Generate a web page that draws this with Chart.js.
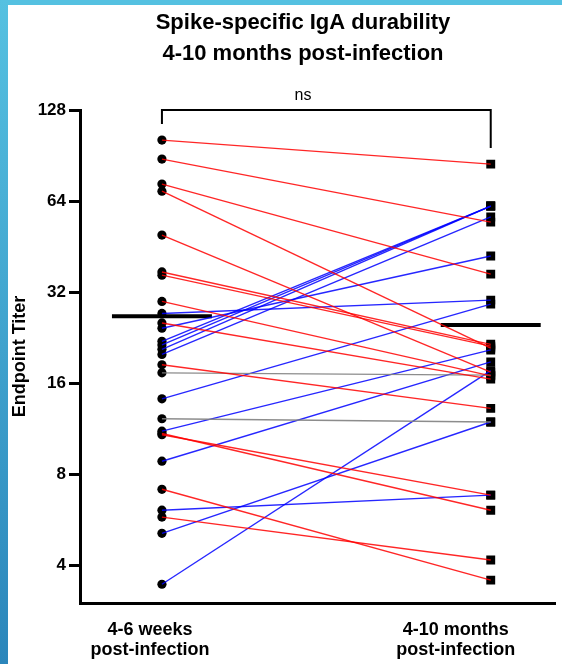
<!DOCTYPE html>
<html>
<head>
<meta charset="utf-8">
<script src="https://cdn.jsdelivr.net/npm/chart.js@4.4.0/dist/chart.umd.min.js"></script>
<style>
html, body { margin: 0; padding: 0; background: #fff; }
#wrap { position: relative; width: 562px; height: 664px; overflow: hidden; }
#topStrip { position: absolute; left: 0; top: 0; width: 562px; height: 5px; background: #55c1e1; }
#leftStrip { position: absolute; left: 0; top: 0; width: 8px; height: 664px; background: linear-gradient(#55c1e1, #2b86bb); }
canvas { position: absolute; left: 0; top: 0; }
</style>
</head>
<body>
<div id="wrap">
  <div id="topStrip"></div>
  <div id="leftStrip"></div>
  <canvas id="pairChart" width="562" height="664"></canvas>
</div>
<script>
// Grupos (eje x) y sus etiquetas
const groupLabels = [['4-6 weeks', 'post-infection'], ['4-10 months', 'post-infection']];
const groupLabelPos = [0.9635, 1.8936];

// Titulos por sujeto: 4-6 semanas y 4-10 meses (mismo orden)
const weeks4to6 = [101.8, 88.1, 72.8, 69.0, 49.4, 37.3, 36.4, 29.8, 27.2, 25.3, 24.3, 22.0, 21.4, 20.7,
                   19.9, 18.4, 17.3, 14.2, 12.2, 11.1, 10.9, 10.8, 8.83, 7.13, 6.08, 5.77, 5.10, 3.46];
const months4to10 = [84.8, 54.5, 36.7, 20.9, 17.4, 21.5, 21.2, 16.9, 30.1, 16.5, 42.1, 61.6, 61.6, 61.6,
                     56.7, 13.2, 17.0, 29.2, 11.9, 20.6, 6.08, 6.82, 18.8, 3.57, 6.82, 4.16, 11.9, 17.6];

// Medianas de cada grupo
const medians = [26.6, 24.9];

// Marcas del eje y
const yTicks = [4, 8, 16, 32, 64, 128];

Chart.defaults.font.family = '"Liberation Sans", Arial, sans-serif';
Chart.defaults.color = '#000';

function lineColor(a, b) {
    const d = Math.log2(b / a);
    if (Math.abs(d) < 0.1) return 'rgba(128, 128, 128, 0.9)';
    return d > 0 ? 'rgba(0, 0, 255, 0.85)' : 'rgba(255, 0, 0, 0.85)';
}

const datasets = [];

// Lineas por sujeto (primero = encima)
weeks4to6.forEach((w, i) => {
    datasets.push({
        data: [{ x: 1, y: w }, { x: 2, y: months4to10[i] }],
        showLine: true,
        borderColor: lineColor(w, months4to10[i]),
        borderWidth: 1.4,
        pointRadius: 0
    });
});

// Medianas
const MEDIAN_HALF = 0.152;
medians.forEach((m, i) => {
    datasets.push({
        data: [{ x: i + 1 - MEDIAN_HALF, y: m }, { x: i + 1 + MEDIAN_HALF, y: m }],
        showLine: true,
        borderColor: '#000',
        borderWidth: 4,
        pointRadius: 0
    });
});

// Cuadrados (4-10 meses)
datasets.push({
    data: months4to10.map(v => ({ x: 2, y: v })),
    pointStyle: 'rect',
    pointRadius: 6.3,
    backgroundColor: '#000',
    borderWidth: 0
});

// Circulos (4-6 semanas)
datasets.push({
    data: weeks4to6.map(v => ({ x: 1, y: v })),
    pointStyle: 'circle',
    pointRadius: 4.6,
    backgroundColor: '#000',
    borderWidth: 0
});

// Titulo, corchete y "ns"
const annotations = {
    id: 'annotations',
    afterDraw(chart) {
        const ctx = chart.ctx;
        const x = chart.scales.x;
        const top = chart.chartArea.top;
        ctx.save();
        ctx.fillStyle = '#000';
        ctx.textAlign = 'center';
        ctx.textBaseline = 'alphabetic';
        ctx.font = 'bold 22px "Liberation Sans", Arial, sans-serif';
        ctx.fillText('Spike-specific IgA durability', 303, 29);
        ctx.fillText('4-10 months post-infection', 303, 60);

        const xl = x.getPixelForValue(1);
        const xr = x.getPixelForValue(2);
        ctx.strokeStyle = '#000';
        ctx.lineWidth = 2;
        ctx.beginPath();
        ctx.moveTo(xl, top + 14);
        ctx.lineTo(xl, top);
        ctx.lineTo(xr, top);
        ctx.lineTo(xr, top + 38);
        ctx.stroke();

        ctx.font = '16px "Liberation Sans", Arial, sans-serif';
        ctx.fillText('ns', 303, 100);
        ctx.restore();
    }
};

new Chart(document.getElementById('pairChart'), {
    type: 'scatter',
    data: { datasets: datasets },
    options: {
        responsive: false,
        animation: false,
        devicePixelRatio: 1,
        layout: { padding: { top: 110, right: 6, left: 0, bottom: 0 } },
        plugins: {
            legend: { display: false },
            tooltip: { enabled: false },
            title: { display: false }
        },
        scales: {
            x: {
                type: 'linear',
                min: 0.7508,
                max: 2.1976,
                afterBuildTicks: s => { s.ticks = groupLabelPos.map(v => ({ value: v })); },
                afterFit: s => { s.height = 61; },
                grid: { display: false, drawTicks: false },
                border: { display: true, color: '#000', width: 3 },
                ticks: {
                    autoSkip: false,
                    maxRotation: 0,
                    padding: 17,
                    color: '#000',
                    font: { size: 18, weight: 'bold', lineHeight: 1.11 },
                    callback: (v, i) => groupLabels[i]
                }
            },
            y: {
                type: 'logarithmic',
                min: 3,
                max: 128,
                afterBuildTicks: s => { s.ticks = yTicks.map(v => ({ value: v })); },
                afterFit: s => { s.width = 80; },
                grid: { drawOnChartArea: false, drawTicks: true, tickLength: 11, tickWidth: 3, tickColor: '#000' },
                border: { display: true, color: '#000', width: 3 },
                ticks: {
                    padding: 3,
                    color: '#000',
                    font: { size: 17, weight: 'bold' },
                    callback: v => String(v)
                },
                title: {
                    display: true,
                    text: 'Endpoint Titer',
                    color: '#000',
                    font: { size: 18, weight: 'bold' },
                    padding: { top: 9, bottom: 0 }
                }
            }
        }
    },
    plugins: [annotations]
});
</script>
</body>
</html>
